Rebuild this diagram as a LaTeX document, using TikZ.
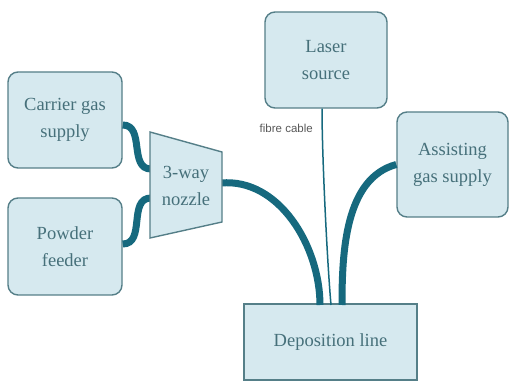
\documentclass[tikz,border=0pt]{standalone}
\usepackage{fontspec}
\setmainfont{Liberation Serif}
\newfontfamily\labelsans{Liberation Sans}
\definecolor{boxfill}{HTML}{D6E9EF}
\definecolor{boxline}{HTML}{557F88}
\definecolor{cable}{HTML}{16697E}
\definecolor{boxtext}{HTML}{46707A}
\begin{document}
\begin{tikzpicture}[x=1pt,y=-1pt,
  unitbox/.style={draw=boxline,line width=1.4pt,fill=boxfill,text=boxtext,
    align=center,font=\fontsize{18.5}{27}\selectfont,inner sep=0pt},
  roundbox/.style={unitbox,rounded corners=10pt},
  thickcable/.style={draw=cable,line width=7pt},
  fibre/.style={draw=cable,line width=1.5pt}]
\useasboundingbox (0,0) rectangle (509,382);
\fill[white] (0,0) rectangle (509,382);
% boxes
\node[roundbox,minimum width=114pt,minimum height=96pt] (carrier) at (65,120) {Carrier gas\\supply};
\node[roundbox,minimum width=114pt,minimum height=97pt] (powder) at (65,246.5) {Powder\\feeder};
\node[roundbox,minimum width=122pt,minimum height=96pt] (laser) at (326,60) {Laser\\source};
\node[roundbox,minimum width=111pt,minimum height=105pt] (assist) at (452.5,164.5) {Assisting\\gas supply};
\node[unitbox,minimum width=173pt,minimum height=76pt] (depo) at (330.5,342) {Deposition line};
% nozzle
\coordinate (ntl) at (150,132);
\coordinate (ntr) at (222,152);
\coordinate (nbr) at (222,222);
\coordinate (nbl) at (150,238);
\coordinate (nin1) at (151,169);
\coordinate (nin2) at (151,198);
\coordinate (nout) at (221,183);
% cables
\draw[thickcable] ([yshift=-5pt]carrier.east) to[out=0,in=180,looseness=1.1] (nin1);
\draw[thickcable] ([yshift=2.5pt]powder.east) to[out=0,in=180,looseness=1.1] (nin2);
\coordinate (d1) at (320,305);
\coordinate (d2) at (331,305);
\coordinate (d3) at (342,305);
\draw[thickcable] (nout) to[out=5,in=90,looseness=0.95] (d1);
\draw[thickcable] (assist.west) to[out=195,in=90,looseness=0.9] (d3);
\draw[fibre] ([xshift=-4pt]laser.south) to[out=-90,in=95,looseness=0.6] (d2);
\draw[draw=boxline,line width=1.4pt,fill=boxfill] (ntl) -- (ntr) -- (nbr) -- (nbl) -- cycle;
\node[text=boxtext,align=center,font=\fontsize{18.5}{27}\selectfont,inner sep=0pt] (nozzle) at (186,186) {3-way\\nozzle};
\node[text=black!65,font=\labelsans\fontsize{11.5}{13}\selectfont,inner sep=0pt,anchor=east] (fibrelabel) at (313,128) {fibre cable};
\end{tikzpicture}
\end{document}
